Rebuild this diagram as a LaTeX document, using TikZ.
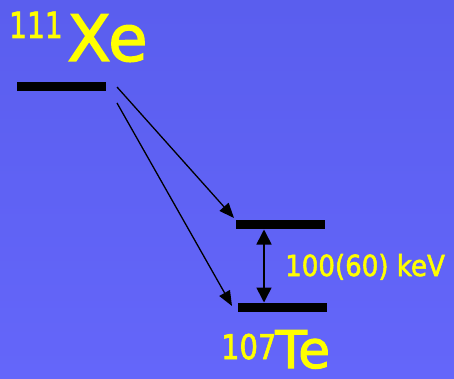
\documentclass[tikz,border=0pt]{standalone}
\usepackage{fontspec}
\setmainfont{DejaVu Sans}
\newfontfamily\lblfont[FakeBold=2]{DejaVu Sans}
\usetikzlibrary{arrows.meta}
\definecolor{bgtop}{RGB}{90,94,238}
\definecolor{bgbot}{RGB}{100,102,250}
\definecolor{lbl}{RGB}{255,255,0}
\begin{document}
\begin{tikzpicture}[x=1pt,y=-1pt,
  level/.style={line width=9pt},
  decay/.style={line width=1.3pt,-{Triangle[length=15pt,width=12pt]}},
  gap/.style={line width=1.6pt,{Triangle[length=15pt,width=15pt]}-{Triangle[length=15pt,width=15pt]}},
  txt/.style={text=lbl,inner sep=0pt,anchor=base west,text depth=0pt}]
\shade[top color=bgtop,bottom color=bgbot] (0,0) rectangle (454,379);
\useasboundingbox (0,0) rectangle (454,379);
% levels
\coordinate (a1) at (17,86.5);   \coordinate (a2) at (106,86.5);
\coordinate (b1) at (236,224.5); \coordinate (b2) at (325,224.5);
\coordinate (c1) at (238,307.5); \coordinate (c2) at (327,307.5);
\draw[level] (a1) -- (a2);
\draw[level] (b1) -- (b2);
\draw[level] (c1) -- (c2);
% decay arrows
\coordinate (s1) at (117,87);  \coordinate (e1) at (234,218);
\coordinate (s2) at (117,103); \coordinate (e2) at (232,306);
\draw[decay] (s1) -- (e1);
\draw[decay] (s2) -- (e2);
\coordinate (g1) at (264,229.5); \coordinate (g2) at (264,302.5);
\draw[gap] (g1) -- (g2);
% labels
\node[txt,font=\lblfont\fontsize{36}{36}\selectfont,xscale=0.78] (m1) at (9,38) {111};
\node[txt,font=\lblfont\fontsize{64}{64}\selectfont] (x1) at (67,61) {Xe};
\node[txt,font=\lblfont\fontsize{29}{29}\selectfont,xscale=0.9] (en) at (285,276) {100(60) keV};
\node[txt,font=\lblfont\fontsize{34}{34}\selectfont,xscale=0.85] (m2) at (221,359) {107};
\node[txt,font=\lblfont\fontsize{52}{52}\selectfont] (t1) at (275,368) {Te};
\end{tikzpicture}
\end{document}
